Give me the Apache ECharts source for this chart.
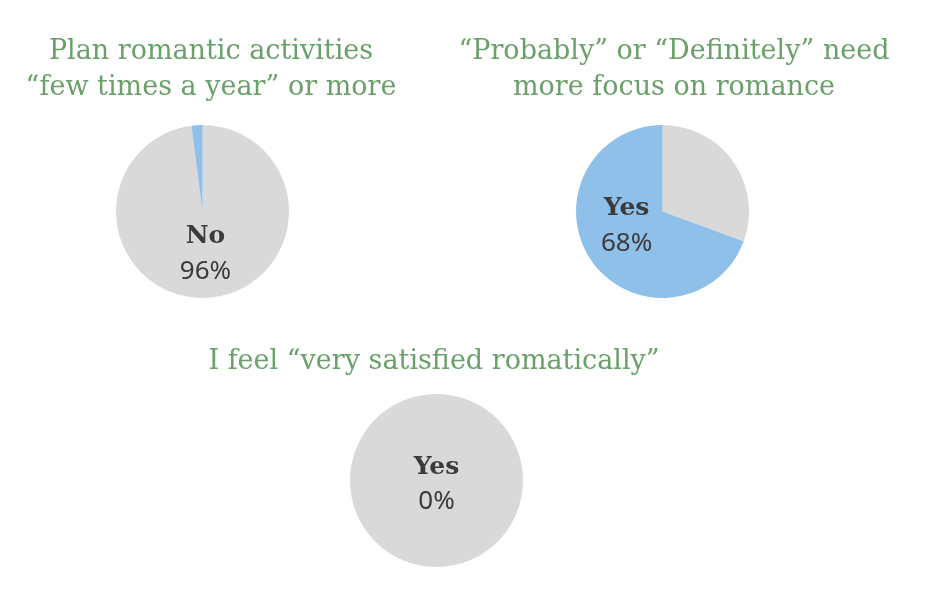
<!DOCTYPE html>
<html><head><meta charset="utf-8">
<script src="https://cdn.jsdelivr.net/npm/echarts@6/dist/echarts.min.js"></script>
<style>html,body{margin:0;padding:0;background:#fff}#c{width:942px;height:598px}</style>
</head><body><div id="c"></div>
<script>
const titles = [
  'Plan romantic activities\n\u201cfew times a year\u201d or more',
  '\u201cProbably\u201d or \u201cDefinitely\u201d need\nmore focus on romance',
  'I feel \u201cvery satisfied romatically\u201d'
];
const pie1Names = ['No', 'Yes'];
const pie1Values = [96, 2];
const pie2Names = ['No', 'Yes'];
const pie2Values = [30, 68];
const pie3Names = ['Yes', 'No'];
const pie3Values = [0, 100];

const GRAY = '#d9d9d9', BLUE = '#8fc0e9', GREEN = '#6aa06a';
const rich = {
  n: {fontFamily: 'DejaVu Serif', fontSize: 25, fontWeight: 'bold', color: '#3b3b3b', lineHeight: 35},
  p: {fontFamily: 'Noto Sans', fontSize: 26, color: '#3b3b3b', lineHeight: 35}
};
function mk(names, values, colors, labelIdx, pos, off) {
  return names.map((n, i) => ({
    name: n, value: values[i],
    itemStyle: {color: colors[i]},
    label: i === labelIdx ? {show: true, position: pos, offset: off, formatter: '{n|{b}}\n{p|{c}%}', rich} : {show: false}
  }));
}
const chart = echarts.init(document.getElementById('c'));
const tstyle = {fontFamily: 'DejaVu Serif', fontSize: 27, fontWeight: 'normal', color: GREEN, lineHeight: 36};
chart.setOption({
  animation: false,
  title: [
    {text: titles[0], left: 206, top: 29, textAlign: 'center', textStyle: tstyle},
    {text: titles[1], left: 669, top: 29, textAlign: 'center', textStyle: tstyle},
    {text: titles[2], left: 429, top: 339, textAlign: 'center', textStyle: tstyle}
  ],
  series: [
    {type: 'pie', center: [202.5, 211.5], radius: 86.5, startAngle: 90, clockwise: true,
     label: {show: false}, labelLine: {show: false}, emphasis: {disabled: true},
     data: mk(pie1Names, pie1Values, [GRAY, BLUE], 0, 'inside', [0, -4])},
    {type: 'pie', center: [662.5, 211.5], radius: 86.5, startAngle: 90, clockwise: true,
     label: {show: false}, labelLine: {show: false}, emphasis: {disabled: true},
     data: mk(pie2Names, pie2Values, [GRAY, BLUE], 1, 'inside', [2, -12])},
    {type: 'pie', center: [436.5, 480.5], radius: 86.5, startAngle: 90, clockwise: true,
     label: {show: false}, labelLine: {show: false}, emphasis: {disabled: true},
     data: mk(pie3Names, pie3Values, [BLUE, GRAY], 0, 'center', [0, 4])}
  ]
});
</script></body></html>
